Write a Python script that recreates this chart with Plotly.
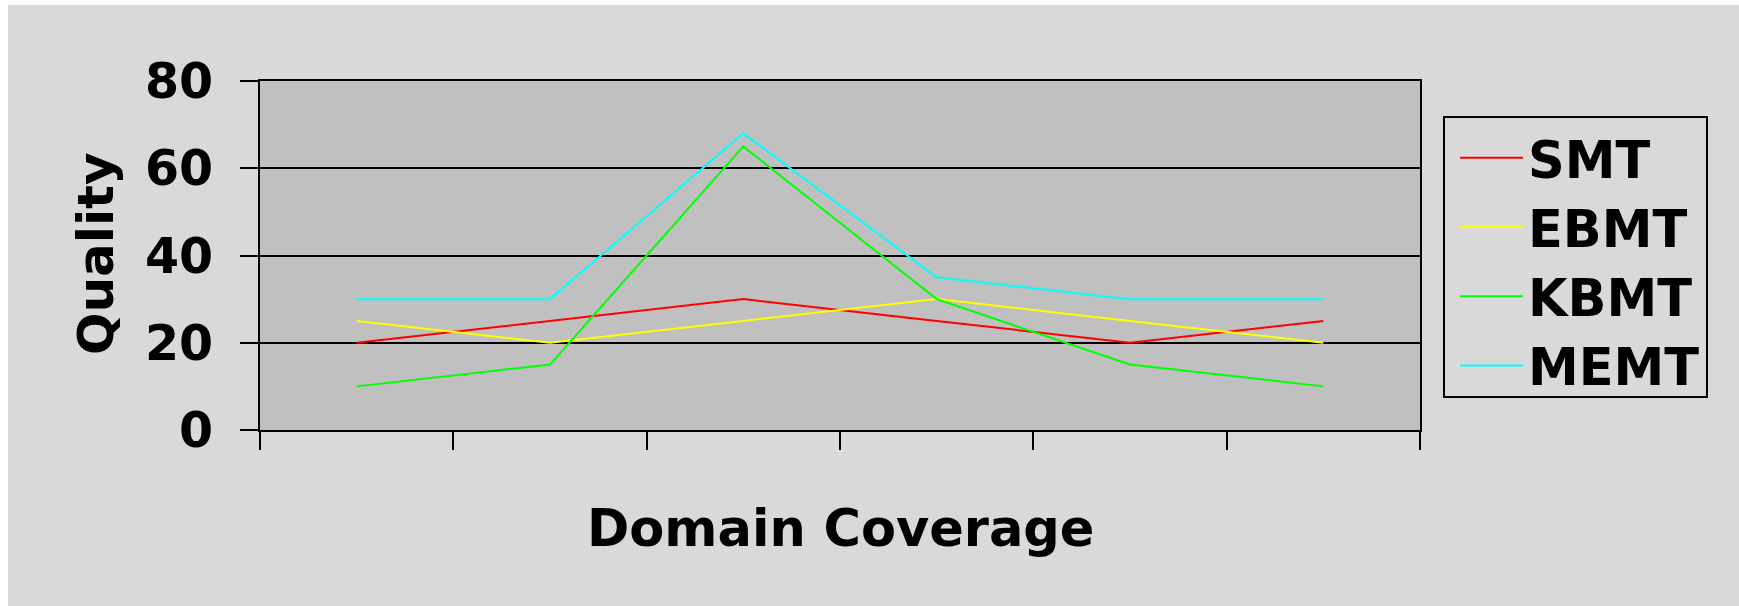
import plotly.graph_objects as go

# Domain coverage levels (ordinal, unlabeled on the axis)
coverage = [1, 2, 3, 4, 5, 6]

# Quality scores per MT approach
smt = [20, 25, 30, 25, 20, 25]
ebmt = [25, 20, 25, 30, 25, 20]
kbmt = [10, 15, 65, 30, 15, 10]
memt = [30, 30, 68, 35, 30, 30]

series_names = ["SMT", "EBMT", "KBMT", "MEMT"]
series_colors = ["#ff0000", "#ffff00", "#00ff00", "#00ffff"]

y_ticks = [0, 20, 40, 60, 80]

W, H = 1739, 606
ML, MR, MT, MB = 260, 319, 81, 176
PW, PH = W - ML - MR, H - MT - MB


def px_to_paper_x(px):
    return (px - ML) / PW


def px_to_paper_y(py):
    return (H - MB - py) / PH


FONT = "DejaVu Sans"

fig = go.Figure()
for name, vals, col in zip(series_names, [smt, ebmt, kbmt, memt], series_colors):
    fig.add_trace(go.Scatter(
        x=coverage, y=vals, name=name, mode="lines",
        line=dict(color=col, width=2),
    ))

fig.update_layout(
    width=W, height=H,
    margin=dict(l=ML, r=MR, t=MT, b=MB, pad=0),
    paper_bgcolor="#d9d9d9",
    plot_bgcolor="#c0c0c0",
    font=dict(family=FONT, color="black"),
    showlegend=True,
    legend=dict(
        x=px_to_paper_x(1455), xanchor="left",
        y=px_to_paper_y(118), yanchor="top",
        bgcolor="rgba(0,0,0,0)", borderwidth=0,
        font=dict(family=FONT, size=51, weight="bold", color="black"),
        itemwidth=63,
    ),
    xaxis=dict(
        range=[0.5, 6.5],
        tickmode="array", tickvals=[0.5, 1.5, 2.5, 3.5, 4.5, 5.5, 6.5],
        ticks="outside", ticklen=18, tickwidth=2, tickcolor="black",
        showticklabels=False, showgrid=False, zeroline=False,
        showline=True, linecolor="black", linewidth=2, mirror=True,
    ),
    yaxis=dict(
        range=[0, 80], tickmode="array", tickvals=y_ticks,
        ticks="outside", ticklen=18, tickwidth=2, tickcolor="black",
        tickfont=dict(family=FONT, size=49, weight="bold", color="black"),
        ticklabelstandoff=17,
        showgrid=True, gridcolor="black", gridwidth=2, zeroline=False,
        showline=True, linecolor="black", linewidth=2, mirror=True,
    ),
    annotations=[
        dict(text="Quality", textangle=-90, showarrow=False,
             xref="paper", yref="paper",
             x=px_to_paper_x(96), y=px_to_paper_y(254),
             xanchor="center", yanchor="middle",
             font=dict(family=FONT, size=50, weight="bold", color="black")),
        dict(text="Domain Coverage", showarrow=False,
             xref="paper", yref="paper",
             x=px_to_paper_x(840), y=px_to_paper_y(528),
             xanchor="center", yanchor="middle",
             font=dict(family=FONT, size=51, weight="bold", color="black")),
    ],
    shapes=[
        # legend frame
        dict(type="rect", xref="paper", yref="paper", layer="above",
             x0=px_to_paper_x(1444), x1=px_to_paper_x(1707),
             y0=px_to_paper_y(397), y1=px_to_paper_y(117),
             line=dict(color="black", width=2)),
        # thin white frame along the left and top edges of the page
        dict(type="rect", xref="paper", yref="paper", layer="above",
             x0=px_to_paper_x(0), x1=px_to_paper_x(8),
             y0=px_to_paper_y(H), y1=px_to_paper_y(0),
             fillcolor="white", line=dict(width=0)),
        dict(type="rect", xref="paper", yref="paper", layer="above",
             x0=px_to_paper_x(0), x1=px_to_paper_x(W),
             y0=px_to_paper_y(5), y1=px_to_paper_y(0),
             fillcolor="white", line=dict(width=0)),
    ],
)

fig.write_html("out.html")
